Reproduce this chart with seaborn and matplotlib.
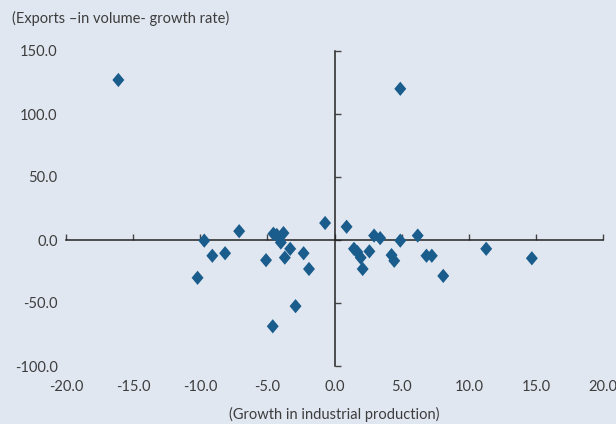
import matplotlib
matplotlib.use("Agg")
import matplotlib.pyplot as plt
from matplotlib.path import Path
import seaborn as sns
import pandas as pd

# growth in industrial production (x) vs exports volume growth (y)
ind_growth = [-16.1, 4.9,
              -9.7, -10.2, -9.1, -8.15, -7.1, -5.1, -4.55, -4.3, -3.8, -4.0,
              -3.3, -3.7, -2.3, -1.9, -2.9, -0.7, -4.6,
              0.9, 1.45, 1.7, 1.95, 2.1, 2.6, 2.95, 3.4, 4.25, 4.45, 4.9,
              6.2, 6.85, 7.25, 8.1, 11.3, 14.7]
exp_growth = [127.0, 120.0,
              -0.5, -30.0, -12.5, -10.5, 7.0, -16.0, 5.0, 4.0, 5.5, -2.0,
              -7.0, -14.0, -10.5, -23.0, -52.5, 13.5, -68.5,
              10.5, -7.0, -9.5, -14.0, -23.0, -9.0, 3.5, 1.5, -12.0, -16.5, -0.5,
              3.5, -12.5, -12.5, -28.5, -7.0, -14.5]

x_ticks = [-20, -15, -10, -5, 0, 5, 10, 15, 20]
x_labels = ["-20.0", "-15.0", "-10.0", "-5.0", "0.0", "5.0", "10.0", "15.0", "20.0"]
y_ticks = [-100, -50, 0, 50, 100, 150]
y_labels = ["-100.0", "-50.0", "0.0", "50.0", "100.0", "150.0"]

df = pd.DataFrame({"ip": ind_growth, "exp": exp_growth})

bg = "#e1e7f1"
txt = "#3d3d3d"
sns.set_theme(style="white")
plt.rcParams["font.family"] = ["Lato", "DejaVu Sans"]

# slightly tall diamond like the original
diamond = Path([(0, 1), (0.84, 0), (0, -1), (-0.84, 0), (0, 1)],
               [Path.MOVETO, Path.LINETO, Path.LINETO, Path.LINETO, Path.CLOSEPOLY])

fig = plt.figure(figsize=(6.16, 4.24), dpi=100, facecolor=bg)
ax = fig.add_axes([66 / 616, 1 - 366 / 424, 537 / 616, 315 / 424])
ax.set_facecolor(bg)

sns.scatterplot(data=df, x="ip", y="exp", marker=diamond, color="#1a5d8c",
                s=105, edgecolor="none", linewidth=0, ax=ax, zorder=3)

ax.set_xlim(-20, 20)
ax.set_ylim(-100, 150)

# crossing axes at zero
for side in ["top", "right"]:
    ax.spines[side].set_visible(False)
ax.spines["left"].set_position(("data", 0))
ax.spines["bottom"].set_position(("data", 0))
for side in ["left", "bottom"]:
    ax.spines[side].set_color("#222222")
    ax.spines[side].set_linewidth(1.1)
ax.set_xticks(x_ticks)
ax.set_yticks(y_ticks)
ax.tick_params(direction="in", length=4, width=1, color="#444444",
               labelbottom=False, labelleft=False, bottom=True, left=True)
ax.set_xlabel("")
ax.set_ylabel("")

# tick labels along the frame edges
secx = ax.secondary_xaxis("bottom")
secx.set_xticks(x_ticks, x_labels)
secx.spines["bottom"].set_visible(False)
secx.tick_params(length=0, pad=10, labelsize=10.5, labelcolor=txt)
secy = ax.secondary_yaxis("left")
secy.set_yticks(y_ticks, y_labels)
secy.spines["left"].set_visible(False)
secy.tick_params(length=0, pad=6, labelsize=10.5, labelcolor=txt)
for lab in secy.get_yticklabels():
    lab.set_verticalalignment("center_baseline")

fig.text(12 / 616, 1 - 18 / 424, "(Exports \u2013in volume- growth rate)",
         fontsize=10.5, color=txt, va="center", ha="left")
fig.text(334.5 / 616, 1 - 414 / 424, "(Growth in industrial production)",
         fontsize=10.5, color=txt, va="center", ha="center")

fig.savefig("out.png", dpi=100, facecolor=bg)
